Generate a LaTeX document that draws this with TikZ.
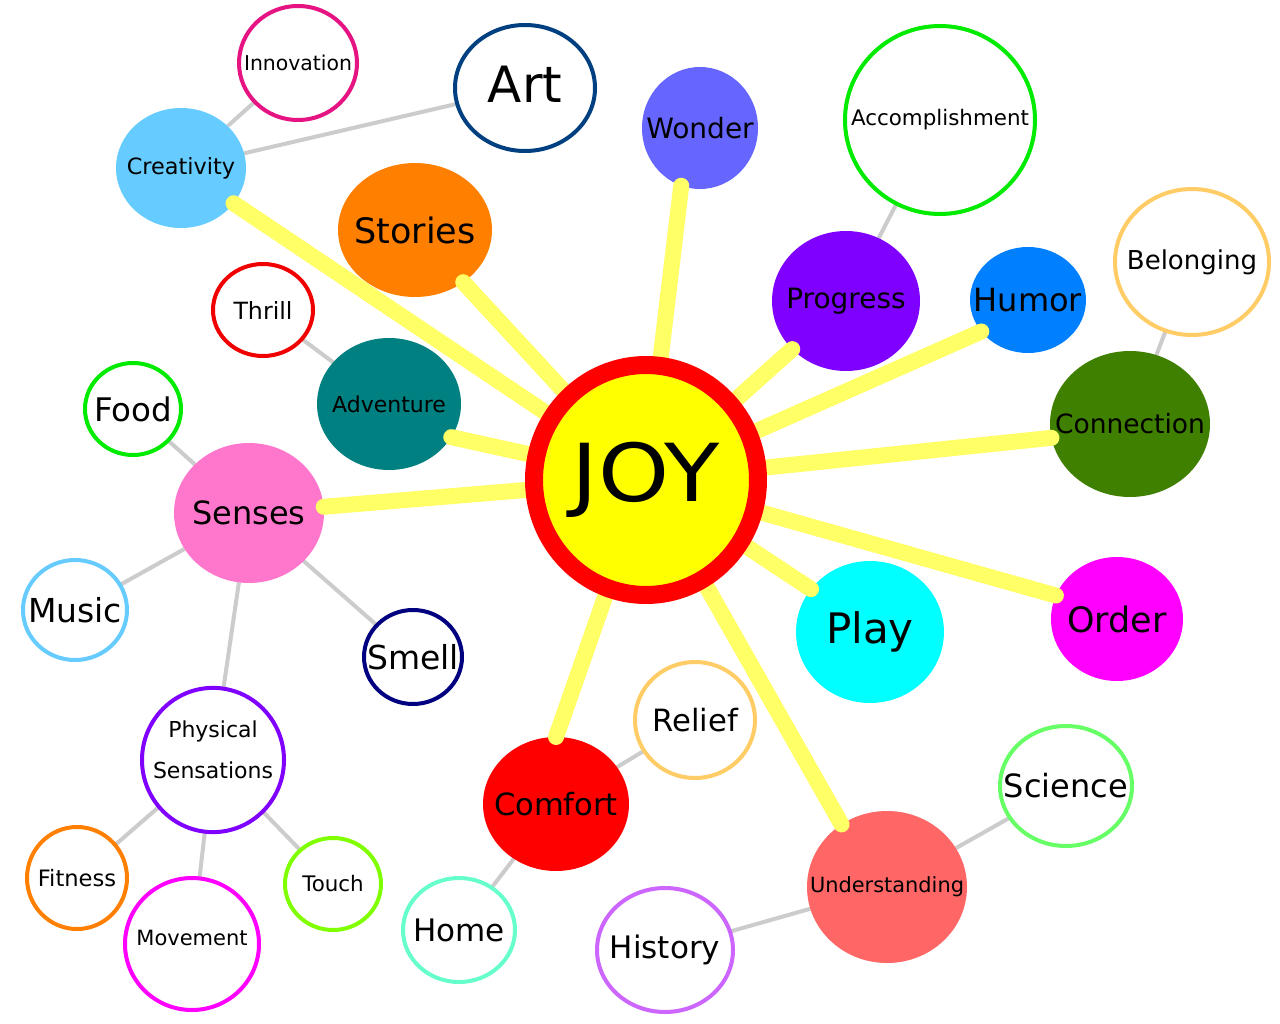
\documentclass[tikz,border=0pt]{standalone}
\usepackage{fontspec}
\setmainfont{DejaVu Sans}
\usepackage{tikz}
\usetikzlibrary{
    shapes.geometric
}
\definecolor{joyRed}{RGB}{255,0,0}
\definecolor{joyYellow}{RGB}{255,255,0}
\definecolor{spokeYellow}{RGB}{255,255,102}
\definecolor{twigGrey}{RGB}{204,204,204}
\definecolor{skyBlue}{RGB}{102,204,255}
\definecolor{deepPink}{RGB}{230,20,130}
\definecolor{artBlue}{RGB}{0,64,128}
\definecolor{wonderBlue}{RGB}{102,102,255}
\definecolor{brightGreen}{RGB}{0,235,0}
\definecolor{storyOrange}{RGB}{255,128,0}
\definecolor{deepViolet}{RGB}{128,0,255}
\definecolor{humorBlue}{RGB}{0,128,255}
\definecolor{sandYellow}{RGB}{255,204,102}
\definecolor{thrillRed}{RGB}{240,0,0}
\definecolor{tealGreen}{RGB}{0,128,128}
\definecolor{oliveGreen}{RGB}{64,128,0}
\definecolor{sensePink}{RGB}{255,119,204}
\definecolor{navyBlue}{RGB}{0,0,128}
\definecolor{playCyan}{RGB}{0,255,255}
\definecolor{orderMagenta}{RGB}{255,0,255}
\definecolor{lightGreen}{RGB}{102,255,102}
\definecolor{limeGreen}{RGB}{128,255,0}
\definecolor{aquaGreen}{RGB}{102,255,204}
\definecolor{lilac}{RGB}{204,102,255}
\definecolor{salmonRed}{RGB}{255,102,102}
\newcommand{\bubtext}[1]{\makebox[0pt]{#1}}
\pgfdeclarelayer{background}
\pgfdeclarelayer{front}
\pgfsetlayers{background,main,front}

\begin{document}
\begin{tikzpicture}[
    x=1pt,
    y=-1pt,
    bub/.style={ellipse, inner sep=0pt, outer sep=0pt},
    ring/.style={bub, draw=#1, line width=4pt, fill=white},
    blob/.style={bub, fill=#1},
    dims/.style 2 args={minimum width=#1pt, minimum height=#2pt},
    txt/.style={font={\fontsize{#1}{#1}\selectfont}},
    spoke/.style={draw=spokeYellow, line width=16pt, line cap=round},
    twig/.style={draw=twigGrey, line width=4pt}
]

\begin{pgfonlayer}{background}
\fill[white] (0,0) rectangle (1280,1024);
\end{pgfonlayer}

% =============================================================
% centre
% =============================================================
\begin{pgfonlayer}{front}
\node[
    bub,
    draw=joyRed,
    fill=joyYellow,
    line width=18pt,
    dims={224}{230},
    txt=80
] (joy) at (646,480) {\bubtext{\scalebox{1.13}[1]{JOY}}};
\end{pgfonlayer}

% =============================================================
% first ring: filled bubbles
% =============================================================
\node[blob=skyBlue, dims={130}{120}, txt=22.4] (crea) at (181,168) {\bubtext{Creativity}};
\node[blob=wonderBlue, dims={116}{122}, txt=28] (wonder) at (700,128) {\bubtext{Wonder}};
\node[blob=storyOrange, dims={154}{134}, txt=35] (stories) at (415,230) {\bubtext{Stories}};
\node[blob=deepViolet, dims={148}{140}, txt=28] (progress) at (846,301) {\bubtext{Progress}};
\node[blob=humorBlue, dims={116}{106}, txt=32] (humor) at (1028,300) {\bubtext{Humor}};
\node[blob=tealGreen, dims={144}{132}, txt=22] (adven) at (389,404) {\bubtext{Adventure}};
\node[blob=oliveGreen, dims={160}{146}, txt=26.5] (connect) at (1130,424) {\bubtext{Connection}};
\node[blob=sensePink, dims={150}{140}, txt=32] (senses) at (249,513) {\bubtext{Senses}};
\node[blob=playCyan, dims={148}{142}, txt=42] (play) at (870,632) {\bubtext{Play}};
\node[blob=orderMagenta, dims={132}{124}, txt=35] (order) at (1117,619) {\bubtext{Order}};
\node[blob=joyRed, dims={146}{134}, txt=30.6] (comfort) at (556,804) {\bubtext{Comfort}};
\node[blob=salmonRed, dims={160}{152}, txt=20.9] (underst) at (887,887) {\bubtext{Understanding}};

% =============================================================
% second ring: outlined bubbles
% =============================================================
\node[ring=deepPink, dims={118}{114}, txt=20.4] (inno) at (298,63) {\bubtext{Innovation}};
\node[ring=artBlue, dims={140}{126}, txt=50] (art) at (525,88) {\bubtext{\raisebox{0pt}[\height][\dimexpr\depth+8pt]{Art}}};
\node[ring=brightGreen, dims={190}{188}, txt=21.4] (accomp) at (940,120) {\bubtext{Accomplishment}};
\node[ring=sandYellow, dims={154}{146}, txt=26] (belong) at (1192,262) {\bubtext{Belonging}};
\node[ring=thrillRed, dims={100}{92}, txt=23.7] (thrill) at (263,310) {\bubtext{Thrill}};
\node[ring=brightGreen, dims={96}{92}, txt=32.5] (food) at (133,409) {\bubtext{Food}};
\node[ring=skyBlue, dims={104}{100}, txt=33] (music) at (75,610) {\bubtext{Music}};
\node[ring=navyBlue, dims={98}{94}, txt=33] (smell) at (413,657) {\bubtext{Smell}};
\node[
    ring=deepViolet,
    dims={142}{140},
    font={\fontsize{22}{41}\selectfont}
] (phys) at (213,760) {\bubtext{\raisebox{0pt}[\height][\dimexpr\depth+20pt]{%
    \begin{tabular}{@{}c@{}}Physical\\Sensations\end{tabular}}}};
\node[ring=sandYellow, dims={120}{116}, txt=30.7] (relief) at (695,720) {\bubtext{Relief}};
\node[ring=lightGreen, dims={132}{120}, txt=32] (science) at (1066,786) {\bubtext{Science}};
\node[ring=storyOrange, dims={100}{102}, txt=22.6] (fitness) at (77,878) {\bubtext{Fitness}};
\node[ring=orderMagenta, dims={134}{132}, txt=21] (move) at (192,944) {\bubtext{\raisebox{0pt}[\height][\dimexpr\depth+12pt]{Movement}}};
\node[ring=limeGreen, dims={96}{92}, txt=21.4] (touch) at (333,884) {\bubtext{Touch}};
\node[ring=aquaGreen, dims={112}{104}, txt=31] (home) at (459,930) {\bubtext{Home}};
\node[ring=lilac, dims={136}{124}, txt=31] (hist) at (665,950) {\bubtext{History}};

% =============================================================
% connectors
% =============================================================
% yellow spokes out of the centre
\foreach \b in {crea,stories,wonder.252,progress,humor.214,connect.190,order.159,
    play.144,underst.126,comfort.north,senses,adven.-28}{
    \draw[spoke] (joy.center) -- (\b);
}

% grey twigs between the outer bubbles
\begin{pgfonlayer}{background}
\foreach \a/\b in {crea/inno,crea/art,progress/accomp,connect/belong,adven/thrill,
    senses/food,senses/music,senses/smell,senses/phys,phys/fitness,phys/move,phys/touch,
    comfort/relief,comfort/home,underst/science,underst/hist}{
    \draw[twig] (\a) -- (\b);
}
\end{pgfonlayer}

\end{tikzpicture}
\end{document}
